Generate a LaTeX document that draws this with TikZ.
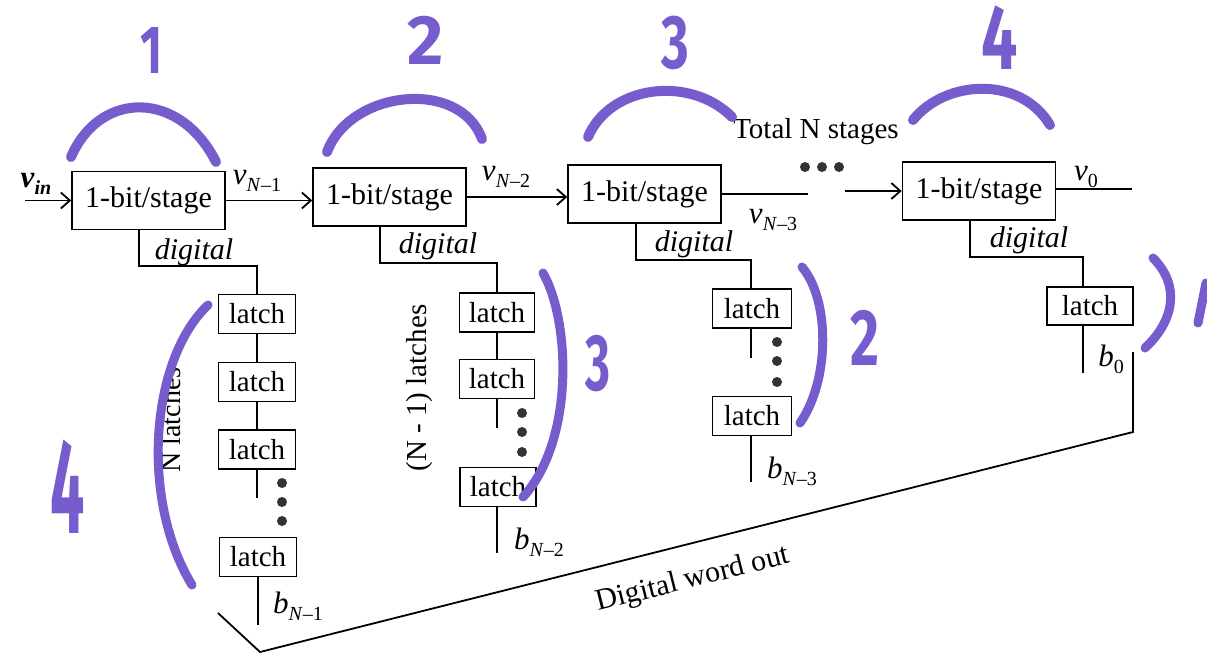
\documentclass[tikz,border=0pt]{standalone}
\usepackage{fontspec}
\setmainfont{Liberation Serif}
\newfontfamily\handfont{Fira Sans}
\usetikzlibrary{arrows.meta}
\definecolor{purp}{RGB}{118,92,204}
\newcommand{\sigl}[2]{\textit{#1}\raisebox{-0.22em}{\fontsize{20}{20}\selectfont #2}}
\begin{document}
\begin{tikzpicture}[x=1pt,y=-1pt,
  stage/.style={draw, line width=1.6pt, minimum width=153pt, minimum height=58pt, inner sep=0pt, font=\fontsize{30}{32}\selectfont},
  latchbox/.style={draw, line width=1.5pt, minimum width=77pt, minimum height=39pt, inner sep=0pt, font=\fontsize{29}{30}\selectfont},
  wire/.style={line width=1.4pt},
  arr/.style={wire, -{Straight Barb[length=9pt,width=16pt,line width=1.8pt]}},
  lbl/.style={font=\fontsize{31}{32}\selectfont, inner sep=0pt},
  dig/.style={font=\fontsize{30}{32}\selectfont\itshape, inner sep=0pt},
  dot/.style={circle, fill=black!80, minimum size=10pt, inner sep=0pt},
  pen/.style={draw=purp, line width=10pt, line cap=round},
  hand/.style={text=purp, font=\handfont\bfseries, inner sep=0pt}]
\useasboundingbox[fill=white] (0,0) rectangle (1207,656);

% stages
\node[stage] (b1) at (148.5,200.5) {1-bit/stage};
\node[stage] (b2) at (389.5,197) {1-bit/stage};
\node[stage] (b3) at (644.5,194) {1-bit/stage};
\node[stage] (b4) at (979,191) {1-bit/stage};

\coordinate (vin) at (25,200.5);
\draw[arr] (vin) -- (b1.west);
\draw[arr] (b1.east) -- (b1.east -| b2.west);
\draw[arr] (b2.east) -- (b2.east -| b3.west);
\coordinate (c3) at (808,194);
\draw[wire] (b3.east) -- (c3);
\coordinate (c4) at (845,191);
\draw[arr] (c4) -- (b4.west);
\coordinate (v0e) at (1132,189);
\draw[wire] (b4.east |- v0e) -- (v0e);

\node[lbl, font=\fontsize{31}{32}\selectfont\bfseries] (lvin) at (36,184) {\sigl{v}{\textit{in}}};
\node[lbl] (lv1) at (257,181) {\sigl{v}{\textit{N}–1}};
\node[lbl] (lv2) at (506,177) {\sigl{v}{\textit{N}–2}};
\node[lbl] (lv3) at (773,220) {\sigl{v}{\textit{N}–3}};
\node[lbl] (lv0) at (1086,177) {\sigl{v}{0}};

\node[dot] (d1) at (805,167) {};
\node[dot] (d2) at (822,167) {};
\node[dot] (d3) at (839,167) {};
\node[font=\fontsize{29}{30}\selectfont, inner sep=0pt] (tot) at (816,132) {Total N stages};

% column 1
\node[latchbox] (l11) at (257,314) {latch};
\node[latchbox] (l12) at (257,382) {latch};
\node[latchbox] (l13) at (257,449.5) {latch};
\node[latchbox] (l14) at (258,557) {latch};
\draw[wire] ([xshift=-9.5pt]b1.south) |- (257,266) -- (l11.north);
\draw[wire] (l11.south) -- (l12.north);
\draw[wire] (l12.south) -- (l13.north);
\coordinate (e13) at (257,498);
\draw[wire] (l13.south) -- (e13);
\node[dot] at (282,483) {};
\node[dot] at (282,502) {};
\node[dot] at (282,521) {};
\coordinate (o1) at (258,625);
\draw[wire] (l14.south) -- (o1);
\node[dig] (g1) at (194,252) {digital};
\node[lbl] (bo1) at (298,606) {\sigl{b}{\textit{N}–1}};
\node[font=\fontsize{28}{30}\selectfont, inner sep=0pt, rotate=90] (nl) at (171,420) {N latches};

% column 2
\node[latchbox, minimum width=75pt] (l21) at (497,312.5) {latch};
\node[latchbox, minimum width=75pt] (l22) at (497,379) {latch};
\node[latchbox, minimum width=76pt] (l23) at (498,487) {latch};
\draw[wire] ([xshift=-9.5pt]b2.south) |- (497,263) -- (l21.north);
\draw[wire] (l21.south) -- (l22.north);
\coordinate (e22) at (497,428);
\draw[wire] (l22.south) -- (e22);
\node[dot] at (522,413) {};
\node[dot] at (522,432) {};
\node[dot] at (522,452) {};
\coordinate (o2) at (497,553);
\draw[wire] (l23.south -| o2) -- (o2);
\node[dig] (g2) at (438,246) {digital};
\node[lbl] (bo2) at (539,542) {\sigl{b}{\textit{N}–2}};
\node[font=\fontsize{29}{30}\selectfont, inner sep=0pt, rotate=90] (nl2) at (420,388) {(N - 1) latches};

% column 3
\node[latchbox, minimum width=79pt] (l31) at (752,308.5) {latch};
\node[latchbox, minimum width=79pt] (l32) at (752,416) {latch};
\draw[wire] ([xshift=-8.5pt]b3.south) |- (751,260) -- (l31.north -| 751,0);
\coordinate (e31) at (751,358);
\draw[wire] (l31.south -| e31) -- (e31);
\node[dot] at (777,342) {};
\node[dot] at (777,361) {};
\node[dot] at (777,382) {};
\coordinate (o3) at (751,482);
\draw[wire] (l32.south -| o3) -- (o3);
\node[dig] (g3) at (694,244) {digital};
\node[lbl] (bo3) at (792,471) {\sigl{b}{\textit{N}–3}};

% column 4
\node[latchbox, minimum width=86pt, minimum height=38pt] (l41) at (1090,306) {latch};
\draw[wire] ([xshift=-9pt]b4.south) |- (1083,257) -- (l41.north -| 1083,0);
\coordinate (o4) at (1083,373);
\draw[wire] (l41.south -| o4) -- (o4);
\node[dig] (g4) at (1029,240) {digital};
\node[lbl] (bo4) at (1111,359) {\sigl{b}{0}};

% output bus
\coordinate (bt) at (1133,352);
\coordinate (bc) at (1133,432);
\coordinate (bv) at (260,652);
\coordinate (bl) at (218,613);
\draw[line width=1.8pt] (bt) -- (bc) -- (bv) -- (bl);
\node[font=\fontsize{30}{32}\selectfont, inner sep=0pt, rotate=14] (dwo) at (693,580) {Digital word out};

% handwritten annotations
\draw[pen] (71,157) .. controls (100,90) and (180,90) .. (216,162);
\draw[pen] (327,152) .. controls (350,90) and (460,78) .. (482,139);
\draw[pen] (588,137) .. controls (610,85) and (690,75) .. (732,117);
\draw[pen] (913,120) .. controls (945,80) and (1020,75) .. (1050,125);
\draw[pen, line width=9pt] (208,305) .. controls (150,360) and (140,500) .. (192,585);
\draw[pen, line width=9pt] (543,273) .. controls (570,320) and (575,440) .. (523,497);
\draw[pen, line width=9pt] (802,267) .. controls (830,300) and (830,380) .. (800,423);
\draw[pen, line width=9pt] (1153,258) .. controls (1180,285) and (1175,320) .. (1145,348);
\draw[pen, line width=9pt] (1206,283) -- (1198,323);

\node[hand, font=\handfont\bfseries\fontsize{68}{70}\selectfont, xscale=0.7] (h1) at (152,51) {1};
\node[hand, font=\handfont\bfseries\fontsize{70}{72}\selectfont] (h2) at (426,40) {2};
\node[hand, font=\handfont\bfseries\fontsize{76}{78}\selectfont, xscale=0.7] (h3) at (675,43) {3};
\node[hand, font=\handfont\bfseries\fontsize{92}{94}\selectfont, xscale=0.7] (h4) at (1000,38) {4};
\node[hand, font=\handfont\bfseries\fontsize{135}{137}\selectfont, xscale=0.45] (h5) at (68,487) {4};
\node[hand, font=\handfont\bfseries\fontsize{80}{82}\selectfont, xscale=0.6] (h6) at (598,364) {3};
\node[hand, font=\handfont\bfseries\fontsize{80}{82}\selectfont, xscale=0.7] (h7) at (865,338) {2};
\end{tikzpicture}
\end{document}
